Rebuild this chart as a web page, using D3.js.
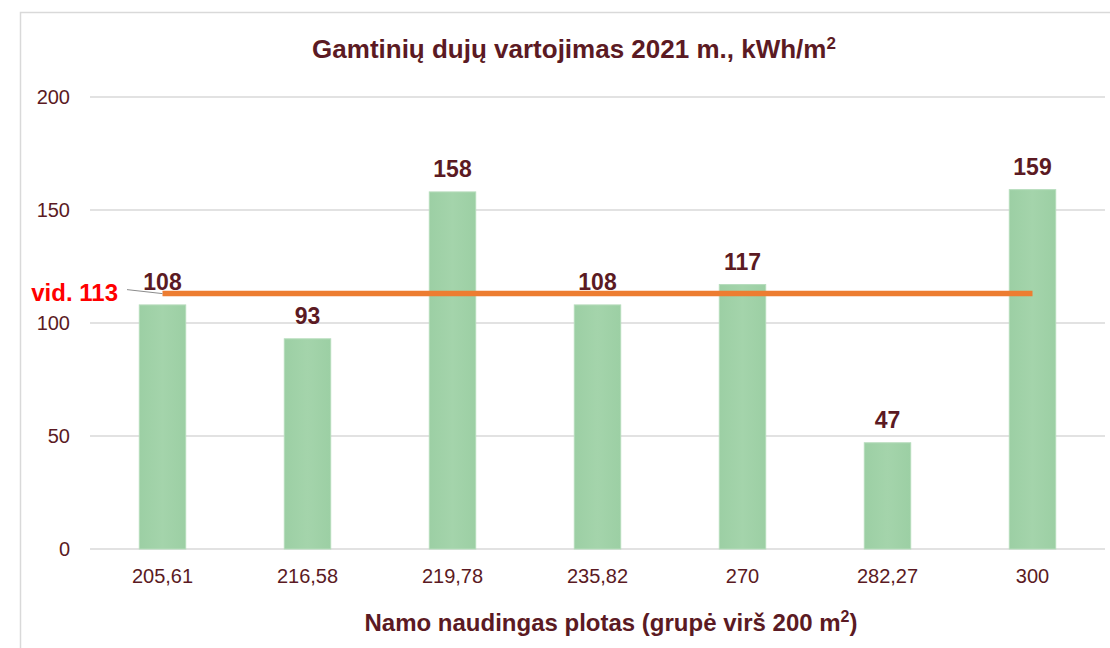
<!DOCTYPE html>
<html>
<head>
<meta charset="utf-8">
<script src="https://cdn.jsdelivr.net/npm/d3@7"></script>
<style>
  body { margin: 0; background: #fff; }
  text { font-family: "Liberation Sans", Arial, sans-serif; }
</style>
</head>
<body>
<svg></svg>
<script>
// chart data
let categories = ['205,61', '216,58', '219,78', '235,82', '270', '282,27', '300']
let values = [108, 93, 158, 108, 117, 47, 159]
let average = 113
let yTicks = [0, 50, 100, 150, 200]

let width = 1110
let height = 648
let plotLeft = 90
let plotRight = 1105
let plotTop = 97
let plotBottom = 549

let textColor = '#5b1a23'

let svg = d3.select('svg').attr('width', width).attr('height', height)

// frame of the chart area
svg.append('rect')
  .attr('x', 20.5).attr('y', 12.5)
  .attr('width', 1200).attr('height', 700)
  .attr('fill', 'none')
  .attr('stroke', '#d9d9d9')
  .attr('stroke-width', 1.5)

let xScale = d3.scaleBand()
  .domain(categories)
  .range([plotLeft, plotRight])
  .paddingInner(0.68)
  .paddingOuter(0.34)

let yScale = d3.scaleLinear()
  .domain([0, 200])
  .range([plotBottom, plotTop])

// gradient for bars
let defs = svg.append('defs')
let grad = defs.append('linearGradient').attr('id', 'barGrad')
  .attr('x1', 0).attr('x2', 1).attr('y1', 0).attr('y2', 0)
grad.append('stop').attr('offset', '0%').attr('stop-color', '#9ccfa4')
grad.append('stop').attr('offset', '50%').attr('stop-color', '#a4d4ab')
grad.append('stop').attr('offset', '100%').attr('stop-color', '#9ccfa4')

// gridlines
svg.append('g')
  .selectAll('line')
  .data(yTicks)
  .enter()
  .append('line')
  .attr('x1', plotLeft).attr('x2', plotRight)
  .attr('y1', d => yScale(d)).attr('y2', d => yScale(d))
  .attr('stroke', '#d9d9d9')
  .attr('stroke-width', 1.5)

// y axis labels
let yAxis = d3.axisLeft(yScale).tickValues(yTicks).tickSize(0).tickPadding(0)
let yg = svg.append('g')
  .attr('transform', 'translate(70,0)')
  .call(yAxis)
yg.select('.domain').remove()
yg.selectAll('text')
  .attr('fill', textColor)
  .style('font-size', '20px')
  .style('font-family', '"Liberation Sans", Arial, sans-serif')

// bars
svg.append('g')
  .selectAll('rect')
  .data(values)
  .enter()
  .append('rect')
  .attr('x', (d, i) => xScale(categories[i]))
  .attr('y', d => yScale(d))
  .attr('width', xScale.bandwidth())
  .attr('height', d => yScale(0) - yScale(d))
  .attr('fill', 'url(#barGrad)')
  .attr('stroke', '#b5dcbb')
  .attr('stroke-width', 1)

// bar value labels
svg.append('g')
  .selectAll('text')
  .data(values)
  .enter()
  .append('text')
  .attr('x', (d, i) => xScale(categories[i]) + xScale.bandwidth() / 2)
  .attr('y', d => yScale(d) - 15)
  .attr('text-anchor', 'middle')
  .attr('fill', textColor)
  .style('font-size', '23px')
  .style('font-weight', 'bold')
  .text(d => d)

// x axis labels
let xAxis = d3.axisBottom(xScale).tickSize(0).tickPadding(0)
let xg = svg.append('g')
  .attr('transform', `translate(0,${plotBottom + 20})`)
  .call(xAxis)
xg.select('.domain').remove()
xg.selectAll('text')
  .attr('fill', textColor)
  .attr('dy', '0.71em')
  .style('font-size', '20px')
  .style('font-family', '"Liberation Sans", Arial, sans-serif')

// average line
let x0 = xScale(categories[0]) + xScale.bandwidth() / 2
let x1 = xScale(categories[categories.length - 1]) + xScale.bandwidth() / 2
svg.append('line')
  .attr('x1', x0).attr('x2', x1)
  .attr('y1', yScale(average)).attr('y2', yScale(average))
  .attr('stroke', '#ed7d31')
  .attr('stroke-width', 5.5)

// leader line + average label
svg.append('line')
  .attr('x1', 127).attr('y1', yScale(average) - 4)
  .attr('x2', x0).attr('y2', yScale(average))
  .attr('stroke', '#8c8c8c')
  .attr('stroke-width', 1)

svg.append('text')
  .attr('x', 118)
  .attr('y', yScale(average) + 7)
  .attr('text-anchor', 'end')
  .attr('fill', '#ff0000')
  .style('font-size', '24px')
  .style('font-weight', 'bold')
  .text('vid. ' + average)

// title
let title = svg.append('text')
  .attr('x', 574)
  .attr('y', 58)
  .attr('text-anchor', 'middle')
  .attr('fill', textColor)
  .style('font-size', '26px')
  .style('font-weight', 'bold')
title.append('tspan').text('Gamtinių dujų vartojimas 2021 m., kWh/m')
title.append('tspan').attr('dy', -9).style('font-size', '17px').text('2')

// x axis title
let xTitle = svg.append('text')
  .attr('x', 611)
  .attr('y', 631)
  .attr('text-anchor', 'middle')
  .attr('fill', textColor)
  .style('font-size', '24px')
  .style('font-weight', 'bold')
xTitle.append('tspan').text('Namo naudingas plotas (grupė virš 200 m')
xTitle.append('tspan').attr('dy', -9).style('font-size', '16px').text('2')
xTitle.append('tspan').attr('dy', 9).text(')')
</script>
</body>
</html>
